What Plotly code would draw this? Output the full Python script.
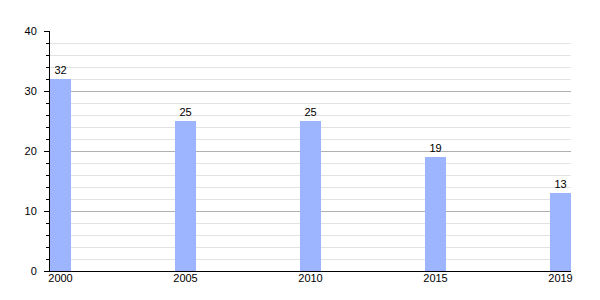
import plotly.graph_objects as go

years = ["2000", "2005", "2010", "2015", "2019"]
values = [32, 25, 25, 19, 13]

xpos = list(range(len(years)))
w = 0.168

fig = go.Figure()
fig.add_trace(go.Bar(
    x=xpos, y=values, width=w,
    marker=dict(color="#9db4ff", line=dict(width=0)),
    text=[str(v) for v in values], textposition="outside",
    textfont=dict(family="Liberation Sans, Arial", size=11, color="#000"),
    cliponaxis=False,
))
fig.update_layout(
    width=600, height=300,
    margin=dict(l=50, r=29, t=31, b=29),
    plot_bgcolor="white", paper_bgcolor="white",
    showlegend=False,
    font=dict(family="Liberation Sans, Arial", size=11, color="#000"),
    xaxis=dict(
        range=[-w/2, len(years) - 1 + w/2],
        tickmode="array", tickvals=xpos, ticktext=years,
        showgrid=False, showline=True, linecolor="#000", linewidth=1,
        ticks="", zeroline=False, ticklabelstandoff=-3,
    ),
    yaxis=dict(
        range=[0, 40], tickmode="linear", tick0=0, dtick=10,
        showgrid=True, gridcolor="#b0b0b0", gridwidth=1,
        showline=True, linecolor="#000", linewidth=1,
        ticks="outside", ticklen=5, tickcolor="#000",
        zeroline=False, ticklabelstandoff=5,
        minor=dict(dtick=2, showgrid=True, gridcolor="#e2e2e2", gridwidth=1,
                   ticks="outside", ticklen=3, tickcolor="#000"),
    ),
)
fig.write_html("out.html")
